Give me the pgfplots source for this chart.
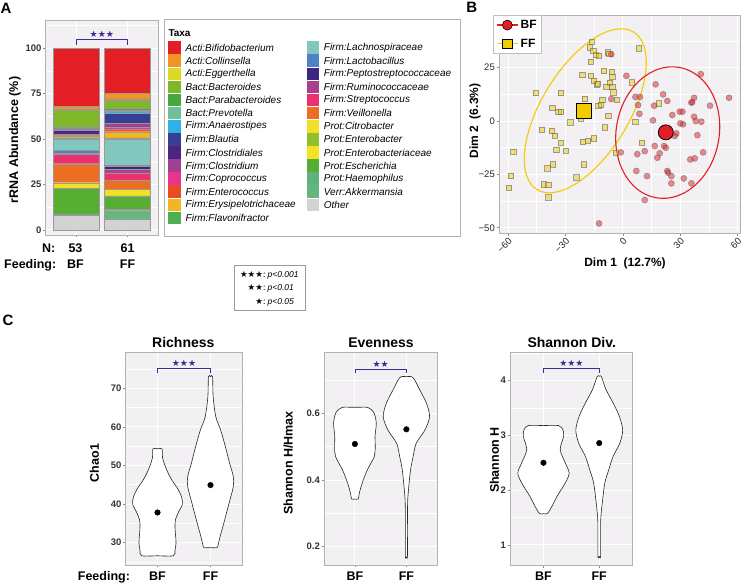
\documentclass[border=0pt]{standalone}
\usepackage{pgfplots}
\pgfplotsset{compat=1.18}
\usepackage{fontspec}
\setmainfont{Liberation Sans}
\newfontfamily\symfont{DejaVu Sans}
\newcommand{\fs}[1]{\fontsize{#1}{#1}\selectfont}

\definecolor{panelbg}{RGB}{242,240,242}
\definecolor{sig}{RGB}{62,44,148}
\definecolor{bfred}{RGB}{227,30,36}
\definecolor{ffgold}{RGB}{240,204,0}
% taxa
\definecolor{taxBifido}{RGB}{227,30,36}
\definecolor{taxCollin}{RGB}{243,146,37}
\definecolor{taxEgger}{RGB}{218,218,36}
\definecolor{taxBacter}{RGB}{128,183,42}
\definecolor{taxParab}{RGB}{72,168,64}
\definecolor{taxPrevo}{RGB}{110,192,155}
\definecolor{taxAnaer}{RGB}{45,178,230}
\definecolor{taxBlaut}{RGB}{56,62,148}
\definecolor{taxClostales}{RGB}{74,37,130}
\definecolor{taxClost}{RGB}{160,64,145}
\definecolor{taxCoproc}{RGB}{232,52,140}
\definecolor{taxEnteroc}{RGB}{232,76,38}
\definecolor{taxErysip}{RGB}{242,182,35}
\definecolor{taxFlavo}{RGB}{78,174,80}
\definecolor{taxLachno}{RGB}{130,199,190}
\definecolor{taxLacto}{RGB}{75,131,196}
\definecolor{taxPepto}{RGB}{60,38,130}
\definecolor{taxRumino}{RGB}{168,66,142}
\definecolor{taxStrep}{RGB}{232,49,110}
\definecolor{taxVeill}{RGB}{235,110,35}
\definecolor{taxCitro}{RGB}{242,224,40}
\definecolor{taxEnterobacter}{RGB}{146,192,42}
\definecolor{taxEnterobact}{RGB}{244,226,36}
\definecolor{taxEsch}{RGB}{88,174,51}
\definecolor{taxHaemo}{RGB}{95,178,122}
\definecolor{taxAkk}{RGB}{100,181,126}
\definecolor{taxOther}{RGB}{211,211,211}

\pgfplotsset{
  gg/.style={
    scale only axis, anchor=south west,
    axis background/.style={fill=panelbg},
    axis line style={draw=black!30, line width=0.5pt},
    grid=both,
    major grid style={draw=white, line width=0.9pt},
    minor grid style={draw=white, line width=0.45pt},
    tick align=outside, tick pos=left,
    major tick length=2.5pt, minor tick length=0pt,
    tick style={draw=black!45, line width=0.5pt},
    /pgf/number format/assume math mode=true,
    yticklabel style={font=\bfseries\fs{9.5}, text=black!80, inner sep=1.5pt},
    clip=false,
  },
  seg/.style={fill=#1, draw=black!40, line width=0.25pt},
  violin/.style={fill=white, draw=black!85, line width=0.6pt, smooth, tension=0.5},
  cpanel/.style={gg, width=#1, height=212.7pt,
    xmin=0.4, xmax=2.6, xtick={1,2}, xticklabels={BF,FF}, minor xtick={},
    xticklabel style={font=\bfseries\fs{12.5}, text=black, inner sep=0pt, yshift=-4pt}},
}

\begin{document}
\begin{tikzpicture}
\path[use as bounding box] (0,0) rectangle (743pt,585pt);

% ---------------- A: stacked composition
\begin{axis}[gg, at={(45.7pt,350pt)}, width=112.3pt, height=215pt,
  xmin=0.4, xmax=2.6, ymin=-2.8, ymax=115.6,
  xtick={1,2}, xticklabels={{},{}}, minor xtick={},
  ytick={0,25,50,75,100}, minor ytick={12.5,37.5,62.5,87.5,112.5},
  ybar stacked, bar width=0.9]
\addplot[seg=taxOther]     coordinates {(1,7.9) (2,6.1)};
\addplot[seg=taxAkk]       coordinates {(1,0.5) (2,4.5)};
\addplot[seg=taxHaemo]     coordinates {(1,0.4) (2,0.8)};
\addplot[seg=taxEsch]      coordinates {(1,14.1) (2,7.3)};
\addplot[seg=taxCitro]     coordinates {(1,3.1) (2,3.7)};
\addplot[seg=taxVeill]     coordinates {(1,10.5) (2,5.1)};
\addplot[seg=taxStrep]     coordinates {(1,5.3) (2,4.0)};
\addplot[seg=taxRumino]    coordinates {(1,0.0) (2,2.1)};
\addplot[seg=taxPepto]     coordinates {(1,0.5) (2,1.6)};
\addplot[seg=taxLacto]     coordinates {(1,1.5) (2,0.3)};
\addplot[seg=taxLachno]    coordinates {(1,6.4) (2,14.3)};
\addplot[seg=taxFlavo]     coordinates {(1,0.5) (2,0.9)};
\addplot[seg=taxErysip]    coordinates {(1,0.8) (2,3.4)};
\addplot[seg=taxEnteroc]   coordinates {(1,0.5) (2,1.2)};
\addplot[seg=taxCoproc]    coordinates {(1,0.3) (2,1.5)};
\addplot[seg=taxClost]     coordinates {(1,0.6) (2,1.8)};
\addplot[seg=taxClostales] coordinates {(1,2.2) (2,0.4)};
\addplot[seg=taxBlaut]     coordinates {(1,0.6) (2,5.1)};
\addplot[seg=taxAnaer]     coordinates {(1,0.2) (2,1.1)};
\addplot[seg=taxPrevo]     coordinates {(1,0.2) (2,0.8)};
\addplot[seg=taxParab]     coordinates {(1,0.7) (2,0.9)};
\addplot[seg=taxBacter]    coordinates {(1,9.4) (2,4.6)};
\addplot[seg=taxEgger]     coordinates {(1,0.2) (2,0.3)};
\addplot[seg=taxCollin]    coordinates {(1,1.6) (2,3.3)};
\addplot[seg=taxBifido]    coordinates {(1,32.0) (2,24.9)};
\draw[sig, line width=0.8pt] (axis cs:1,101.8) -- (axis cs:1,105) -- (axis cs:2,105) -- (axis cs:2,101.8);
\node[sig, anchor=south, inner sep=1pt, font=\symfont\fs{9}] at (axis cs:1.5,105.5) {★★★};
\end{axis}

% ---------------- B: ordination
\begin{axis}[gg, at={(499pt,351.7pt)}, width=241pt, height=218.3pt,
  xmin=-64.7, xmax=61.3, ymin=-52.6, ymax=49.7,
  xtick={-60,-30,0,30,60}, xticklabels={−60,−30,0,30,60},
  ytick={-50,-25,0,25}, yticklabels={−50,−25,0,25},
  minor xtick={-45,-15,15,45}, minor ytick={-37.5,-12.5,12.5,37.5},
  yticklabel style={font=\fs{9.5}, text=black!85},
  xticklabel style={font=\fs{9.5}, text=black!85, rotate=45, anchor=north east, inner sep=1pt},
  clip=true,
  legend style={at={(-0.024,1)}, anchor=north west, draw=black!25, fill=white,
    font=\bfseries\fs{12}, inner xsep=2.5pt, inner ysep=3pt, row sep=5pt, cells={anchor=west}},
  legend image code/.code={\draw[mark repeat=2,mark phase=2,#1] plot coordinates {(0pt,0pt) (10.8pt,0pt) (21.6pt,0pt)};}]
\draw[ffgold, line width=1.1pt, rotate around={58.5:(axis cs:-19.6,4.8)}] (axis cs:-19.6,4.8) ellipse [x radius=92.4pt, y radius=43.7pt];
\draw[bfred, line width=1.1pt, rotate around={79.8:(axis cs:23.5,-5.4)}] (axis cs:23.5,-5.4) ellipse [x radius=66.2pt, y radius=51.5pt];
\addplot[forget plot, only marks, mark=square*, mark size=2.65pt,
  mark options={fill=ffgold, fill opacity=0.5, draw=black!60, draw opacity=0.6, line width=0.6pt}] coordinates {
(-16.2,37.2) (-17.3,34.5) (-15.4,32.8) (-14.1,30.9) (-12.4,30.6) (-8.0,32.2) (-7.0,31.5)
(-16.7,27.8) (-21.1,21.6) (-16.6,21.2) (-15.0,18.8) (-13.6,17.2) (-13.0,17.6) (-9.8,23.4)
(-5.8,23.1) (-5.4,20.8) (-6.6,18.0) (-8.6,16.1) (-5.4,16.1) (-4.9,13.5) (-3.3,9.8)
(-10.7,9.8) (-12.8,7.2) (-11.5,7.5) (-7.5,2.3) (-19.7,10.3) (-27.5,-0.6) (-32.4,13.1)
(-45.5,13.1) (-36.8,6.2) (-33.7,4.4) (-32.3,4.4) (-22.0,1.3) (8.5,34.1) (4.9,18.1)
(19.0,8.3) (6.6,-0.3) (-42.3,-4.2) (-37.1,-4.7) (-35.5,-6.9) (-32.4,-10.2) (-34.7,-13.6)
(-29.8,-13.9) (-20.8,-9.7) (-18.1,-9.2) (-15.0,-8.1) (-9.3,-3.0) (-3.7,-14.8) (-57.2,-14.4)
(-36.4,-20.3) (-39.4,-22.2) (-20.2,-20.2) (-24.3,-26.4) (-58.4,-25.8) (-59.4,-31.3)
(-41.1,-29.7) (-38.9,-30.0) (-39.0,-35.8) (10.1,-10.2)
};
\addplot[forget plot, only marks, mark=*, mark size=3pt,
  mark options={fill=bfred, fill opacity=0.5, draw=black!60, draw opacity=0.6, line width=0.6pt}] coordinates {
(-6.0,31.3) (-6.0,10.3) (1.9,21.2) (17.2,17.2) (6.6,11.3) (9.0,11.3) (21.1,12.5) (23.3,9.4)
(16.4,7.2) (8.0,7.5) (8.7,3.4) (15.8,0.3) (25.9,2.8) (29.8,4.4) (31.2,4.4) (37.3,10.9)
(35.9,8.6) (36.3,8.9) (40.8,22.0) (45.6,7.2) (55.6,10.9) (37.3,2.0) (38.2,0) (41.1,-0.3)
(30.1,-1.1) (31.5,-1.5) (-12.4,-48.0) (27.2,-7.0) (28.0,-5.8) (39.0,-6.6) (-1.0,-14.7)
(7.6,-15.5) (11.5,-14.1) (16.7,-11.7) (19.3,-15.1) (18.1,-17.2) (21.6,-11.7) (22.5,-12.5)
(42.0,-14.7) (37.6,-17.5) (35.3,-18.0) (7.1,-23.4) (12.7,-25.8) (23.3,-23.4) (23.7,-24.2)
(25.4,-25.8) (25.4,-29.2) (31.9,-26.9) (35.9,-29.2) (11.5,-37.0)
};
\addplot[forget plot, only marks, mark=*, mark size=7.5pt,
  mark options={fill=bfred, draw=black, line width=0.8pt}] coordinates {(22.5,-5.3)};
\addplot[forget plot, only marks, mark=square*, mark size=7.5pt,
  mark options={fill=ffgold, draw=black, line width=0.8pt}] coordinates {(-20.1,4.7)};
\addlegendimage{bfred, line width=1.2pt, mark=*, mark size=5pt, mark options={fill=bfred, draw=black, line width=0.6pt}}
\addlegendentry{BF}
\addlegendimage{ffgold, line width=1.2pt, mark=square*, mark size=4.8pt, mark options={fill=ffgold, draw=black, line width=0.6pt}}
\addlegendentry{FF}
\end{axis}

% ---------------- C: Richness
\begin{axis}[cpanel=116.6pt, at={(125.7pt,20pt)},
  ymin=24.2, ymax=79.3, ytick={30,40,50,60,70}, minor ytick={25,35,45,55,65,75}]
\addplot[violin] coordinates {(1,26.6) (1.30,26.6) (1.33,28) (1.35,30) (1.34,32) (1.33,34) (1.34,36) (1.40,38) (1.47,40) (1.45,42) (1.38,44) (1.28,46) (1.20,48) (1.14,50) (1.095,52) (1.085,54.3) (1,54.3) (0.915,54.3) (0.905,52) (0.86,50) (0.80,48) (0.72,46) (0.62,44) (0.55,42) (0.53,40) (0.60,38) (0.66,36) (0.67,34) (0.66,32) (0.65,30) (0.67,28) (0.70,26.6) (1,26.6)};
\addplot[violin] coordinates {(2,28.7) (2.125,28.7) (2.145,29.5) (2.18,31.5) (2.25,35) (2.35,40.2) (2.43,44.5) (2.43,47.1) (2.36,50.6) (2.28,54.9) (2.19,59.2) (2.10,62.6) (2.05,67.8) (2.038,73) (2,73) (1.962,73) (1.95,67.8) (1.90,62.6) (1.81,59.2) (1.72,54.9) (1.64,50.6) (1.57,47.1) (1.57,44.5) (1.65,40.2) (1.75,35) (1.82,31.5) (1.855,29.5) (1.875,28.7) (2,28.7)};
\addplot[only marks, mark=*, mark size=2.8pt, black] coordinates {(1,37.8) (2,44.9)};
\draw[sig, line width=0.8pt] (axis cs:1,73.9) -- (axis cs:1,75) -- (axis cs:2,75) -- (axis cs:2,73.9);
\node[sig, anchor=south, inner sep=1pt, font=\symfont\fs{9}] at (axis cs:1.5,75.2) {★★★};
\end{axis}

% ---------------- C: Evenness
\begin{axis}[cpanel=113.3pt, at={(324pt,20pt)},
  ymin=0.145, ymax=0.783, ytick={0.2,0.4,0.6}, yticklabels={0.2,0.4,0.6}, minor ytick={0.3,0.5,0.7}]
\addplot[violin] coordinates {(1,0.343) (1.065,0.343) (1.085,0.36) (1.14,0.39) (1.24,0.43) (1.375,0.47) (1.395,0.50) (1.39,0.53) (1.415,0.57) (1.375,0.60) (1.31,0.612) (1.245,0.618) (1,0.618) (0.755,0.618) (0.69,0.612) (0.625,0.60) (0.585,0.57) (0.61,0.53) (0.605,0.50) (0.625,0.47) (0.76,0.43) (0.86,0.39) (0.915,0.36) (0.935,0.343) (1,0.343)};
\addplot[violin] coordinates {(2,0.17) (2.02,0.17) (2.02,0.25) (2.023,0.33) (2.04,0.37) (2.08,0.43) (2.13,0.47) (2.19,0.51) (2.36,0.55) (2.45,0.59) (2.39,0.63) (2.26,0.67) (2.16,0.70) (2.10,0.71) (2,0.71) (1.90,0.71) (1.84,0.70) (1.74,0.67) (1.61,0.63) (1.55,0.59) (1.64,0.55) (1.81,0.51) (1.87,0.47) (1.92,0.43) (1.96,0.37) (1.977,0.33) (1.98,0.25) (1.98,0.17) (2,0.17)};
\addplot[only marks, mark=*, mark size=2.8pt, black] coordinates {(1,0.508) (2,0.552)};
\draw[sig, line width=0.8pt] (axis cs:1,0.72) -- (axis cs:1,0.733) -- (axis cs:2,0.733) -- (axis cs:2,0.72);
\node[sig, anchor=south, inner sep=1pt, font=\symfont\fs{9}] at (axis cs:1.5,0.735) {★★};
\end{axis}

% ---------------- C: Shannon
\begin{axis}[cpanel=122.7pt, at={(510pt,20pt)},
  ymin=0.63, ymax=4.52, ytick={1,2,3,4}, minor ytick={1.5,2.5,3.5,4.5}]
\addplot[violin] coordinates {(1,1.57) (1.07,1.57) (1.15,1.70) (1.24,1.88) (1.39,2.13) (1.46,2.31) (1.39,2.50) (1.30,2.74) (1.36,2.98) (1.35,3.10) (1.27,3.18) (1,3.18) (0.73,3.18) (0.65,3.10) (0.64,2.98) (0.70,2.74) (0.61,2.50) (0.54,2.31) (0.61,2.13) (0.76,1.88) (0.85,1.70) (0.93,1.57) (1,1.57)};
\addplot[violin] coordinates {(2,0.79) (2.024,0.79) (2.024,1.3) (2.03,1.52) (2.054,1.76) (2.10,2.13) (2.17,2.37) (2.25,2.62) (2.37,2.86) (2.42,3.10) (2.36,3.35) (2.25,3.59) (2.12,3.84) (2.036,4.08) (2,4.08) (1.964,4.08) (1.88,3.84) (1.75,3.59) (1.64,3.35) (1.58,3.10) (1.63,2.86) (1.75,2.62) (1.83,2.37) (1.90,2.13) (1.946,1.76) (1.97,1.52) (1.976,1.3) (1.976,0.79) (2,0.79)};
\addplot[only marks, mark=*, mark size=2.8pt, black] coordinates {(1,2.50) (2,2.86)};
\draw[sig, line width=0.8pt] (axis cs:1,4.14) -- (axis cs:1,4.22) -- (axis cs:2,4.22) -- (axis cs:2,4.14);
\node[sig, anchor=south, inner sep=1pt, font=\symfont\fs{9}] at (axis cs:1.5,4.23) {★★★};
\end{axis}

% ---------------- text and legends (pixel coordinates, y downwards)
\begin{scope}[x=1pt, y=-1pt, yshift=585pt]
\node[font=\bfseries\fs{15}] at (6,8) {A};
\node[font=\bfseries\fs{15}] at (471.7,7.5) {B};
\node[font=\bfseries\fs{15}] at (8,320) {C};
% A labels
\node[rotate=90, font=\bfseries\fs{12.5}] at (15,140) {rRNA Abundance (\%)};
\node[anchor=base east, font=\bfseries\fs{12.5}] at (58.8,252.3) {N:};
\node[anchor=base, font=\bfseries\fs{12.5}] at (75.5,252.3) {53};
\node[anchor=base, font=\bfseries\fs{12.5}] at (127.5,252.3) {61};
\node[anchor=base east, font=\bfseries\fs{12.5}] at (59.8,268.3) {Feeding:};
\node[anchor=base, font=\bfseries\fs{12.5}] at (75.5,268.3) {BF};
\node[anchor=base, font=\bfseries\fs{12.5}] at (127.5,268.3) {FF};
% A legend
\draw[draw=black!30, fill=white, line width=0.5pt] (164,19.3) rectangle (460,236);
\node[anchor=west, font=\bfseries\fs{10}, inner sep=0pt] at (168.3,33.3) {Taxa};
\foreach \c/\n [count=\i from 0] in {taxBifido/Acti:Bifidobacterium, taxCollin/Acti:Collinsella,
  taxEgger/Acti:Eggerthella, taxBacter/Bact:Bacteroides, taxParab/Bact:Parabacteroides,
  taxPrevo/Bact:Prevotella, taxAnaer/Firm:Anaerostipes, taxBlaut/Firm:Blautia,
  taxClostales/Firm:Clostridiales, taxClost/Firm:Clostridium, taxCoproc/Firm:Coprococcus,
  taxEnteroc/Firm:Enterococcus, taxErysip/Firm:Erysipelotrichaceae, taxFlavo/Firm:Flavonifractor}{
  \fill[\c] (168.3,{47.7+13.1*\i-6.3}) rectangle (180.7,{47.7+13.1*\i+6.3});
  \node[anchor=west, font=\itshape\fs{10}, inner sep=0pt] at (185.5,{47.7+13.1*\i}) {\n};
}
\foreach \c/\n [count=\i from 0] in {taxLachno/Firm:Lachnospiraceae, taxLacto/Firm:Lactobacillus,
  taxPepto/Firm:Peptostreptococcaceae, taxRumino/Firm:Ruminococcaceae, taxStrep/Firm:Streptococcus,
  taxVeill/Firm:Veillonella, taxCitro/Prot:Citrobacter, taxEnterobacter/Prot:Enterobacter,
  taxEnterobact/Prot:Enterobacteriaceae, taxEsch/Prot:Escherichia, taxHaemo/Prot:Haemophilus,
  taxAkk/Verr:Akkermansia, taxOther/Other}{
  \fill[\c] (306.5,{47.7+13.1*\i-6.3}) rectangle (318.9,{47.7+13.1*\i+6.3});
  \node[anchor=west, font=\itshape\fs{10}, inner sep=0pt] at (323.7,{47.7+13.1*\i}) {\n};
}
% significance key
\draw[draw=black!40, fill=white, line width=0.5pt] (234,265.7) rectangle (305.7,310.7);
\node[anchor=base east, inner sep=0pt, font=\symfont\fs{8.5}] at (266,277.3) {★★★:};
\node[anchor=base west, inner sep=0pt, font=\itshape\fs{8.5}] at (267.5,277.3) {p<0.001};
\node[anchor=base east, inner sep=0pt, font=\symfont\fs{8.5}] at (266,291) {★★:};
\node[anchor=base west, inner sep=0pt, font=\itshape\fs{8.5}] at (267.5,291) {p<0.01};
\node[anchor=base east, inner sep=0pt, font=\symfont\fs{8.5}] at (266,304.5) {★:};
\node[anchor=base west, inner sep=0pt, font=\itshape\fs{8.5}] at (267.5,304.5) {p<0.05};
% B labels
\node[font=\bfseries\fs{12}] at (625,263) {Dim 1\ \ (12.7\%)};
\node[rotate=90, font=\bfseries\fs{12}] at (475,121) {Dim 2\ \ (6.3\%)};
% C labels
\node[font=\bfseries\fs{14}] at (183.3,342.5) {Richness};
\node[font=\bfseries\fs{14}] at (381,342.5) {Evenness};
\node[font=\bfseries\fs{14}] at (571.7,342.5) {Shannon Div.};
\node[rotate=90, font=\bfseries\fs{12.5}] at (94.3,463) {Chao1};
\node[rotate=90, font=\bfseries\fs{12.5}] at (288.3,463) {Shannon H/Hmax};
\node[rotate=90, font=\bfseries\fs{12.5}] at (494.3,460) {Shannon H};
\node[anchor=base east, font=\bfseries\fs{12.5}] at (133.5,580.7) {Feeding:};
\end{scope}
\end{tikzpicture}
\end{document}
